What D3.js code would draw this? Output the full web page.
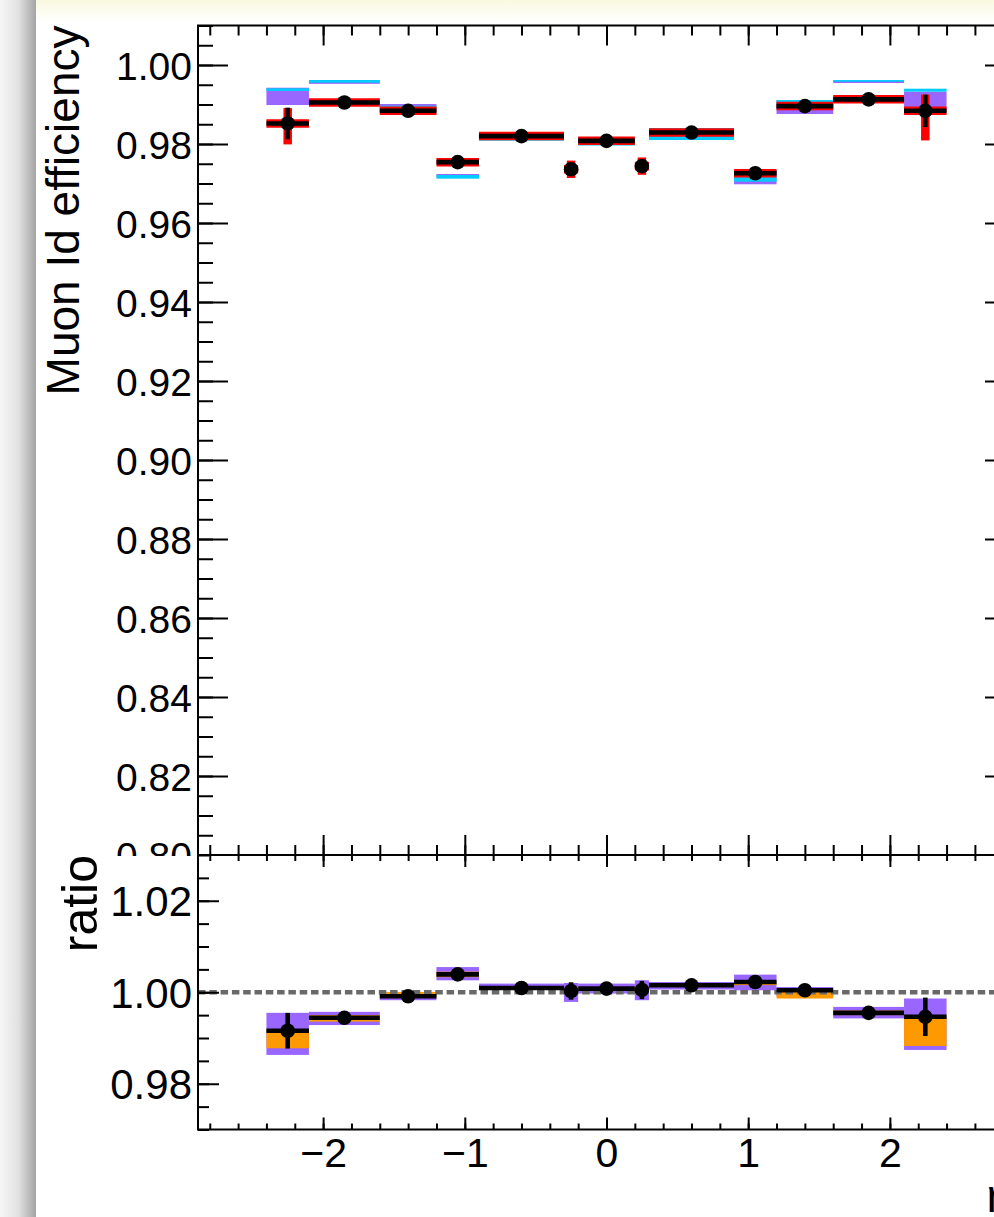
<!DOCTYPE html>
<html>
<head>
<meta charset="utf-8">
<script src="https://cdn.jsdelivr.net/npm/d3@7"></script>
<style>
body { margin: 0; background: #fff; }
svg { display: block; }
</style>
</head>
<body>
<svg id="chart" width="994" height="1217"></svg>
<script>
// eta bin edges
const edges = [-2.4, -2.1, -1.6, -1.2, -0.9, -0.3, -0.2, 0.2, 0.3, 0.9, 1.2, 1.6, 2.1, 2.4]

// upper pad: efficiency (black points, red underlay)
const eff      = [0.9852, 0.9905, 0.9884, 0.9754, 0.9820, 0.9736, 0.9808, 0.9744, 0.9829, 0.9726, 0.9896, 0.9913, 0.9884]
const effErr   = [0.0040, 0.0010, 0.0010, 0.0010, 0.0010, 0.0012, 0.0010, 0.0012, 0.0010, 0.0010, 0.0010, 0.0010, 0.0041]
const redErrUp = [0.0039, 0.0012, 0.0012, 0.0012, 0.0012, 0.0022, 0.0012, 0.0022, 0.0012, 0.0012, 0.0012, 0.0012, 0.0041]
const redErrDn = [0.0053, 0.0012, 0.0012, 0.0012, 0.0012, 0.0022, 0.0012, 0.0022, 0.0012, 0.0012, 0.0012, 0.0012, 0.0075]
// bands [low, high], null where none
const purpleBand = [[0.98987, 0.99425], [0.99523, 0.99608], [0.98810, 0.99013], [0.97165, 0.97241], [0.98127, 0.98278], null,
  [0.98025, 0.98177], null, [0.98177, 0.98405], [0.96980, 0.97342], [0.98759, 0.99114], [0.99544, 0.99608], [0.98861, 0.99324]]
const cyanBand = [[0.99342, 0.99410], [0.99552, 0.99620], [0.98899, 0.98970], [0.97122, 0.97215], [0.98084, 0.98278], null,
  [0.97962, 0.98177], null, [0.98101, 0.98405], [0.97046, 0.97342], [0.98886, 0.99114], [0.99577, 0.99620], [0.99324, 0.99400]]

// lower pad: ratio
const ratio    = [0.99159, 0.99441, 0.99913, 1.00391, 1.00093, 1.00028, 1.00080, 1.00050, 1.00152, 1.00224, 1.00043, 0.99550, 0.99463]
const ratioErr = [0.0039, 0.0006, 0.0006, 0.0006, 0.0006, 0.0019, 0.0006, 0.0020, 0.0006, 0.0006, 0.0006, 0.0006, 0.0042]
const ratioPurple = [[0.98630, 0.99550], [0.99283, 0.99572], [0.99826, 0.99985], [1.00261, 1.00550], [1.00065, 1.00189], [0.99789, 1.00202],
  [0.99971, 1.00189], [0.99826, 1.00261], [1.00059, 1.00224], [1.00043, 1.00385], [0.99913, 1.00115], [0.99428, 0.99680], [0.98739, 0.99863]]
const ratioOrange = [[0.98776, 0.99174], [0.99359, 0.99500], [0.99891, 1.00007], [1.0033, 1.0045], [1.0008, 1.0012], null,
  [1.0005, 1.0010], null, [1.0012, 1.0018], [1.00155, 1.0022], [0.99863, 1.00043], [0.9950, 0.9960], [0.98826, 0.99435]]

const yTopTicks = [0.80, 0.82, 0.84, 0.86, 0.88, 0.90, 0.92, 0.94, 0.96, 0.98, 1.00]
const yBotTicks = [0.98, 1.00, 1.02]
const xTicks = [-2, -1, 0, 1, 2]

const yTitle = "Muon Id efficiency"
const rTitle = "ratio"
const xTitle = "η"

const font = '"Liberation Sans", Arial, Helvetica, sans-serif'
const purple = "#9966ff", cyan = "#00ccff", orange = "#ff9900"

const L = 198, R = 1015
const topT = 25.5, topB = 855
const botT = 855, botB = 1129.5

const svg = d3.select("#chart")
const defs = svg.append("defs")

// window chrome: shadow at left, tinted strip on top
const gl = defs.append("linearGradient").attr("id", "shadowL").attr("x1", 0).attr("x2", 1).attr("y1", 0).attr("y2", 0)
gl.append("stop").attr("offset", 0).attr("stop-color", "#f6f6f6")
gl.append("stop").attr("offset", 0.5).attr("stop-color", "#e2e2e2")
gl.append("stop").attr("offset", 1).attr("stop-color", "#a4a4a4")
const gt = defs.append("linearGradient").attr("id", "stripT").attr("x1", 0).attr("x2", 0).attr("y1", 0).attr("y2", 1)
gt.append("stop").attr("offset", 0).attr("stop-color", "#f9f9e0")
gt.append("stop").attr("offset", 1).attr("stop-color", "#ffffff")

svg.append("rect").attr("width", 994).attr("height", 1217).attr("fill", "#fff")
svg.append("rect").attr("x", 36).attr("y", 0).attr("width", 958).attr("height", 22).attr("fill", "url(#stripT)")
svg.append("rect").attr("x", 0).attr("y", 0).attr("width", 36).attr("height", 1217).attr("fill", "url(#shadowL)")

const x = d3.scaleLinear().domain([-2.883, 2.883]).range([L, R])
const yTop = d3.scaleLinear().domain([0.80, 1.01]).range([topB, topT])
const yBot = d3.scaleLinear().domain([0.97, 1.03]).range([botB, botT])

const bins = eff.map((v, i) => ({ i, lo: edges[i], hi: edges[i + 1], mid: (edges[i] + edges[i + 1]) / 2 }))

function styleAxis(g, size) {
  g.select(".domain").remove()
  g.selectAll("line").attr("stroke", "#000").attr("stroke-width", 2)
  g.attr("font-family", font).attr("font-size", size)
  g.selectAll("text").attr("fill", "#000")
}

function boxes(g, data, y, color) {
  g.selectAll(null).data(bins.filter(b => data[b.i])).enter().append("rect")
    .attr("x", b => x(b.lo)).attr("width", b => x(b.hi) - x(b.lo))
    .attr("y", b => y(data[b.i][1])).attr("height", b => y(data[b.i][0]) - y(data[b.i][1]))
    .attr("fill", color)
}

function errBars(g, vals, up, dn, y, color, w) {
  const e = g.selectAll(null).data(bins).enter()
  e.append("line")
    .attr("x1", b => x(b.lo)).attr("x2", b => x(b.hi))
    .attr("y1", b => y(vals[b.i])).attr("y2", b => y(vals[b.i]))
    .attr("stroke", color).attr("stroke-width", w)
  e.append("line")
    .attr("x1", b => x(b.mid)).attr("x2", b => x(b.mid))
    .attr("y1", b => y(vals[b.i] + up[b.i])).attr("y2", b => y(vals[b.i] - dn[b.i]))
    .attr("stroke", color).attr("stroke-width", w)
}

function minorRange(a, b, step) {
  return d3.range(Math.round(a / step), Math.round(b / step) + 1).map(k => +(k * step).toFixed(4))
}

// ---------- upper pad ----------
const up = svg.append("g")

boxes(up, purpleBand, yTop, purple)
boxes(up, cyanBand, yTop, cyan)
errBars(up, eff, redErrUp, redErrDn, yTop, "#ff0000", 8.5)
errBars(up, eff, effErr, effErr, yTop, "#000", 4.6)
up.selectAll(null).data(bins).enter().append("circle")
  .attr("cx", b => x(b.mid)).attr("cy", b => yTop(eff[b.i])).attr("r", 7.3).attr("fill", "#000")

// axes of the upper pad
const yMinTop = minorRange(0.80, 1.01, 0.005)
const xMinor = minorRange(-2.8, 2.8, 0.2)

up.append("g").attr("transform", `translate(${L},0)`)
  .call(d3.axisLeft(yTop).tickValues(yMinTop).tickSize(-15).tickFormat(""))
  .call(g => styleAxis(g, 39))
up.append("g").attr("transform", `translate(${L},0)`)
  .call(d3.axisLeft(yTop).tickValues(yTopTicks).tickSize(-30).tickPadding(6).tickFormat(d3.format(".2f")))
  .call(g => styleAxis(g, 39))
  .call(g => g.selectAll("text").attr("dy", "0.37em"))
up.append("g").attr("transform", `translate(${R},0)`)
  .call(d3.axisRight(yTop).tickValues(yMinTop).tickSize(-15).tickFormat(""))
  .call(g => styleAxis(g, 39))
up.append("g").attr("transform", `translate(${R},0)`)
  .call(d3.axisRight(yTop).tickValues(yTopTicks).tickSize(-30).tickFormat(""))
  .call(g => styleAxis(g, 39))
up.append("g").attr("transform", `translate(0,${topT})`)
  .call(d3.axisTop(x).tickValues(xMinor).tickSize(-10).tickFormat(""))
  .call(g => styleAxis(g, 39))
up.append("g").attr("transform", `translate(0,${topT})`)
  .call(d3.axisTop(x).tickValues(xTicks).tickSize(-20).tickFormat(""))
  .call(g => styleAxis(g, 39))
up.append("g").attr("transform", `translate(0,${topB})`)
  .call(d3.axisBottom(x).tickValues(xMinor).tickSize(-10).tickFormat(""))
  .call(g => styleAxis(g, 39))
up.append("g").attr("transform", `translate(0,${topB})`)
  .call(d3.axisBottom(x).tickValues(xTicks).tickSize(-20).tickFormat(""))
  .call(g => styleAxis(g, 39))
up.append("rect").attr("x", L).attr("y", topT).attr("width", R - L).attr("height", topB - topT)
  .attr("fill", "none").attr("stroke", "#000").attr("stroke-width", 2)

up.append("text")
  .attr("transform", `translate(79,${topT}) rotate(-90)`)
  .attr("text-anchor", "end").attr("font-family", font).attr("font-size", 46)
  .text(yTitle)

// ---------- lower pad ----------
const lo = svg.append("g")
lo.append("rect").attr("x", 36).attr("y", botT + 1).attr("width", 958).attr("height", 1217 - botT - 1).attr("fill", "#fff")

boxes(lo, ratioPurple, yBot, purple)
boxes(lo, ratioOrange, yBot, orange)
lo.append("line").attr("x1", L).attr("x2", R).attr("y1", yBot(1)).attr("y2", yBot(1))
  .attr("stroke", "#696969").attr("stroke-width", 4.7).attr("stroke-dasharray", "7.5,3.8")
errBars(lo, ratio, ratioErr, ratioErr, yBot, "#000", 4.6)
lo.selectAll(null).data(bins).enter().append("circle")
  .attr("cx", b => x(b.mid)).attr("cy", b => yBot(ratio[b.i])).attr("r", 7.3).attr("fill", "#000")

const yMinBot = minorRange(0.97, 1.03, 0.005)
lo.append("g").attr("transform", `translate(${L},0)`)
  .call(d3.axisLeft(yBot).tickValues(yMinBot).tickSize(-11).tickFormat(""))
  .call(g => styleAxis(g, 42))
lo.append("g").attr("transform", `translate(${L},0)`)
  .call(d3.axisLeft(yBot).tickValues(yBotTicks).tickSize(-21).tickPadding(6).tickFormat(d3.format(".2f")))
  .call(g => styleAxis(g, 42))
  .call(g => g.selectAll("text").attr("dy", "0.36em"))
lo.append("g").attr("transform", `translate(${R},0)`)
  .call(d3.axisRight(yBot).tickValues(yMinBot).tickSize(-11).tickFormat(""))
  .call(g => styleAxis(g, 42))
lo.append("g").attr("transform", `translate(${R},0)`)
  .call(d3.axisRight(yBot).tickValues(yBotTicks).tickSize(-21).tickFormat(""))
  .call(g => styleAxis(g, 42))
lo.append("g").attr("transform", `translate(0,${botT})`)
  .call(d3.axisTop(x).tickValues(xMinor).tickSize(-6).tickFormat(""))
  .call(g => styleAxis(g, 41))
lo.append("g").attr("transform", `translate(0,${botT})`)
  .call(d3.axisTop(x).tickValues(xTicks).tickSize(-12).tickFormat(""))
  .call(g => styleAxis(g, 41))
lo.append("g").attr("transform", `translate(0,${botB})`)
  .call(d3.axisBottom(x).tickValues(xMinor).tickSize(-6).tickFormat(""))
  .call(g => styleAxis(g, 41))
lo.append("g").attr("transform", `translate(0,${botB})`)
  .call(d3.axisBottom(x).tickValues(xTicks).tickSize(-12).tickPadding(8.5).tickFormat(d3.format("d")))
  .call(g => styleAxis(g, 41))
lo.append("rect").attr("x", L).attr("y", botT).attr("width", R - L).attr("height", botB - botT)
  .attr("fill", "none").attr("stroke", "#000").attr("stroke-width", 2)

lo.append("text")
  .attr("transform", `translate(97,${botT}) rotate(-90)`)
  .attr("text-anchor", "end").attr("font-family", font).attr("font-size", 50)
  .text(rTitle)

lo.append("text")
  .attr("x", 1012).attr("y", 1212)
  .attr("text-anchor", "end").attr("font-family", font).attr("font-size", 46)
  .text(xTitle)
</script>
</body>
</html>
